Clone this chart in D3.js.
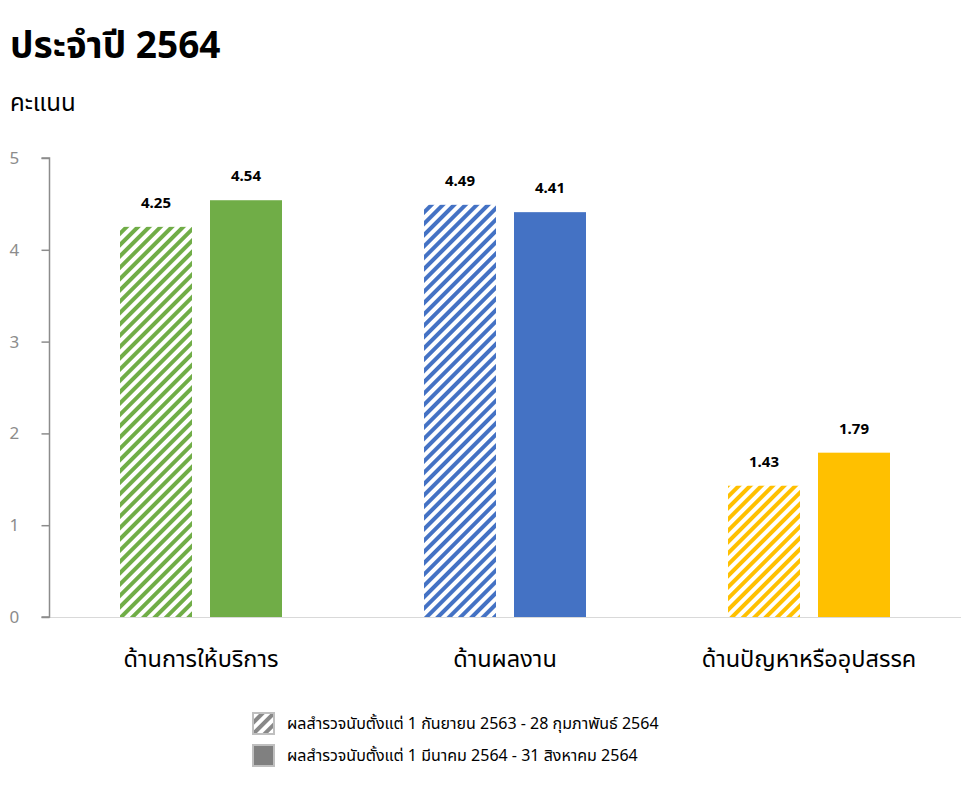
<!DOCTYPE html>
<html><head><meta charset="utf-8">
<script src="https://cdn.jsdelivr.net/npm/d3@7"></script>
<style>body{margin:0;background:#fff;font-family:"Noto Sans","Noto Sans Thai",Tahoma,sans-serif}</style>
</head><body><svg id="c" width="980" height="787"></svg>
<script>
const categories = ["ด้านการให้บริการ", "ด้านผลงาน", "ด้านปัญหาหรืออุปสรรค"];
const seriesNames = ["ผลสำรวจนับตั้งแต่ 1 กันยายน 2563 - 28 กุมภาพันธ์ 2564", "ผลสำรวจนับตั้งแต่ 1 มีนาคม 2564 - 31 สิงหาคม 2564"];
const period1 = [4.25, 4.49, 1.43];
const period2 = [4.54, 4.41, 1.79];
const colors = ["#70AD47", "#4472C4", "#FFC000"];
const yTicks = [0, 1, 2, 3, 4, 5];

const svg = d3.select("#c");
const defs = svg.append("defs");
const font = '"Noto Sans","Noto Sans Thai",Tahoma,sans-serif';
function hatch(id, col){
  const p = defs.append("pattern").attr("id", id).attr("patternUnits","userSpaceOnUse")
    .attr("width", 8).attr("height", 8).attr("patternTransform","rotate(45)");
  p.append("rect").attr("width",8).attr("height",8).attr("fill","#fff");
  p.append("rect").attr("x",0).attr("width",4).attr("height",8).attr("fill",col);
}
colors.forEach((c,i)=>hatch("h"+i,c));
hatch("hg","#888");

const x0 = d3.scaleBand().domain(categories).range([49, 961]).paddingInner(0).paddingOuter(0);
const y = d3.scaleLinear().domain([0,5]).range([617,158]);

// title
svg.append("text").attr("x",10).attr("y",58).attr("font-size",37).attr("font-weight","bold")
  .attr("font-family",font).text("ประจำปี 2564");
svg.append("text").attr("x",10).attr("y",111).attr("font-size",24)
  .attr("font-family",font).text("คะแนน");

// baseline
svg.append("line").attr("x1",49).attr("x2",961).attr("y1",y(0)+0.5).attr("y2",y(0)+0.5).attr("stroke","#d9d9d9");

// y axis
const yAxis = d3.axisLeft(y).tickValues(yTicks).tickSize(8).tickPadding(14).tickFormat(d3.format("d"));
const ga = svg.append("g").attr("transform","translate(49.5,0)").call(yAxis);
ga.select(".domain").attr("stroke","#8c8c8c").attr("stroke-width",1.5).attr("d","M-8,"+y(5)+"H0V"+y(0)+"H-8");
ga.selectAll(".tick line").attr("stroke","#8c8c8c").attr("stroke-width",1.5);
ga.selectAll(".tick text").attr("fill","#8c8c8c").attr("font-size",17).attr("font-family",font).attr("text-anchor","start").attr("x",-40);

const bw = 72, gap = 18;
categories.forEach((cat,i)=>{
  const cx = x0(cat) + x0.bandwidth()/2;
  const vals = [period1[i], period2[i]];
  vals.forEach((v,j)=>{
    const bx = cx - gap/2 - bw + j*(bw+gap);
    svg.append("rect").attr("x",bx).attr("y",y(v)).attr("width",bw).attr("height",y(0)-y(v))
      .attr("fill", j===0 ? "url(#h"+i+")" : colors[i]);
    svg.append("text").attr("x",bx+bw/2).attr("y",y(v)-19).attr("text-anchor","middle")
      .attr("font-size",15).attr("font-weight","bold").attr("font-family",font).text(v.toFixed(2));
  });
  svg.append("text").attr("x",cx).attr("y",667).attr("text-anchor","middle").attr("font-size",23.5)
    .attr("font-family",font).text(cat);
});

// legend
seriesNames.forEach((s,j)=>{
  const ly = 713 + j*32;
  svg.append("rect").attr("x",253).attr("y",ly).attr("width",21).attr("height",21)
    .attr("fill", j===0 ? "url(#hg)" : "#808080").attr("stroke","#bfbfbf").attr("stroke-width",2);
  svg.append("text").attr("x",287).attr("y",ly+16).attr("font-size",16).attr("font-family",font).text(s);
});
</script></body></html>
